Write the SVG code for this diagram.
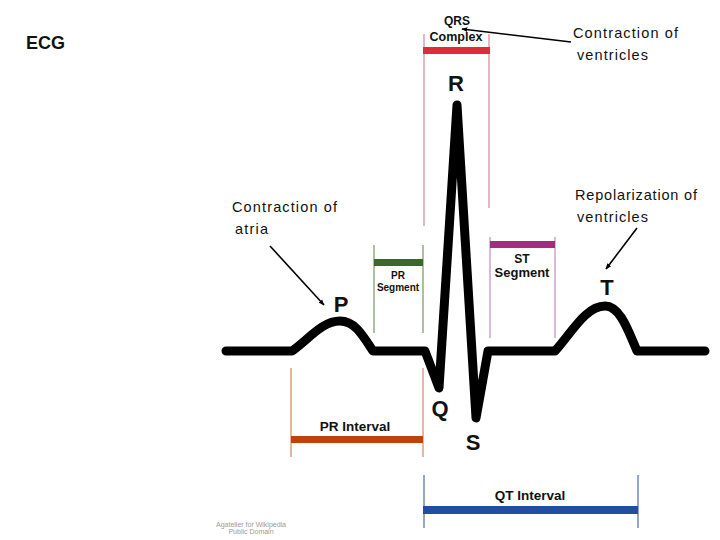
<svg xmlns="http://www.w3.org/2000/svg" width="720" height="540" viewBox="0 0 720 540">
<style>
.lbl{font-family:"Liberation Sans",Arial,sans-serif;font-weight:bold;fill:#111;text-anchor:middle}
.ann{font-family:"Liberation Sans",Arial,sans-serif;font-size:14.5px;fill:#111}
.wave{fill:none;stroke:#000;stroke-width:9;stroke-linecap:round;stroke-linejoin:round}
.conn{stroke:#000;stroke-width:1.6;fill:none}
</style>
<defs>
<marker id="ah" viewBox="0 0 10 10" refX="9" refY="5" markerWidth="6" markerHeight="6" orient="auto" markerUnits="userSpaceOnUse">
<path d="M0,1 L10,5 L0,9 z" fill="#000"/>
</marker>
</defs>
<rect width="720" height="540" fill="#fff"/>

<g id="title">
<text x="26" y="49" font-family="Liberation Sans, Arial, sans-serif" font-weight="bold" font-size="18" fill="#111">ECG</text>
</g>

<g id="qrs-complex">
<line x1="424" y1="34" x2="424" y2="226" stroke="#d890a0" stroke-width="1.3"/>
<line x1="489" y1="34" x2="489" y2="208" stroke="#d890a0" stroke-width="1.3"/>
<rect x="423" y="47" width="67" height="7" fill="#dc2d3c"/>
<text class="lbl" x="457" y="25" font-size="12">QRS</text>
<text class="lbl" x="456" y="41" font-size="12.5">Complex</text>
</g>

<g id="pr-segment">
<line x1="374" y1="245" x2="374" y2="333" stroke="#7f9e6e" stroke-width="1.3"/>
<line x1="423" y1="245" x2="423" y2="333" stroke="#7f9e6e" stroke-width="1.3"/>
<rect x="374" y="259" width="49" height="7" fill="#3b6a26"/>
<text class="lbl" x="398" y="279" font-size="10">PR</text>
<text class="lbl" x="398" y="291" font-size="10">Segment</text>
</g>

<g id="st-segment">
<line x1="490" y1="237" x2="490" y2="338" stroke="#c994c2" stroke-width="1.3"/>
<line x1="555" y1="237" x2="555" y2="338" stroke="#c994c2" stroke-width="1.3"/>
<rect x="490" y="241" width="65" height="7" fill="#a0307f"/>
<text class="lbl" x="522" y="263" font-size="12">ST</text>
<text class="lbl" x="522" y="277" font-size="13">Segment</text>
</g>

<g id="pr-interval">
<line x1="291" y1="368" x2="291" y2="457" stroke="#d4926a" stroke-width="1.3"/>
<line x1="423" y1="368" x2="423" y2="457" stroke="#d4926a" stroke-width="1.3"/>
<rect x="291" y="436" width="132" height="7" fill="#c0410c"/>
<text class="lbl" x="355" y="431" font-size="13.5">PR Interval</text>
</g>

<g id="qt-interval">
<line x1="424" y1="475" x2="424" y2="528" stroke="#5a78a8" stroke-width="1.3"/>
<line x1="638" y1="475" x2="638" y2="528" stroke="#5a78a8" stroke-width="1.3"/>
<rect x="423" y="506" width="215" height="8" fill="#1f4f9f"/>
<text class="lbl" x="530" y="500" font-size="13.5">QT Interval</text>
</g>

<g id="ecg-trace">
<path class="wave" d="M226,351 L292,351 C308,340 322,321 340,321 C355,321 363,336 373,351 L425,351 L439,388 L457,105 L476,418 L488,351 L555,351 C572,332 586,306 605,306 C620,306 628,330 637,351 L705,351"/>
</g>

<g id="wave-letters">
<text class="lbl" x="456" y="91" font-size="22">R</text>
<text class="lbl" x="341" y="312" font-size="22">P</text>
<text class="lbl" x="607" y="295" font-size="22">T</text>
<text class="lbl" x="440" y="416" font-size="22">Q</text>
<text class="lbl" x="473" y="450" font-size="22">S</text>
</g>

<g id="annotation-ventricles">
<text class="ann" x="573" y="38" textLength="105" lengthAdjust="spacing">Contraction of</text>
<text class="ann" x="577" y="60" textLength="71" lengthAdjust="spacing">ventricles</text>
</g>

<g id="annotation-atria">
<text class="ann" x="232" y="212" textLength="105" lengthAdjust="spacing">Contraction of</text>
<text class="ann" x="235" y="234" textLength="33" lengthAdjust="spacing">atria</text>
</g>

<g id="annotation-repolarization">
<text class="ann" x="575" y="200" textLength="122" lengthAdjust="spacing">Repolarization of</text>
<text class="ann" x="577" y="222" textLength="71" lengthAdjust="spacing">ventricles</text>
</g>

<g id="credit">
<text x="251" y="527" font-family="Liberation Sans, Arial, sans-serif" font-size="7" fill="#9a9a9a" text-anchor="middle">Agateller for Wikipedia</text>
<text x="251" y="534" font-family="Liberation Sans, Arial, sans-serif" font-size="7" fill="#9a9a9a" text-anchor="middle">Public Domain</text>
</g>

<g id="connectors">
<line class="conn" x1="571" y1="42" x2="462" y2="29" marker-end="url(#ah)"/>
<line class="conn" x1="270" y1="246" x2="324" y2="305" marker-end="url(#ah)"/>
<line class="conn" x1="637" y1="228" x2="606" y2="269" marker-end="url(#ah)"/>
</g>
</svg>
